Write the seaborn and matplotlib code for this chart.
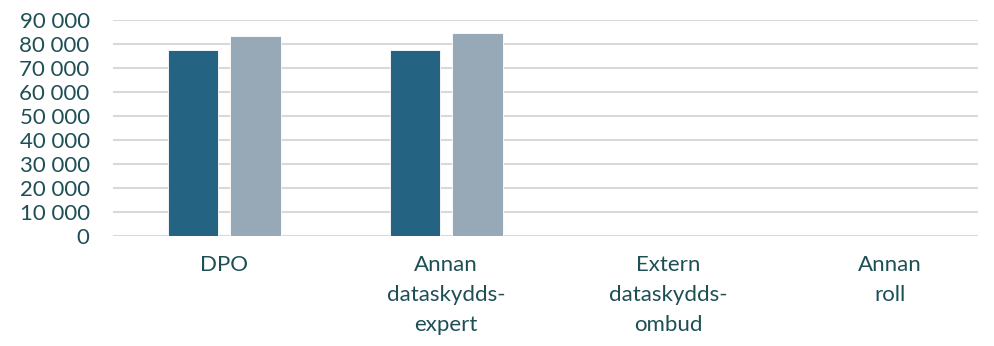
import pandas as pd
import seaborn as sns
import matplotlib.pyplot as plt
from matplotlib.ticker import FuncFormatter

# chart data
categories = ['DPO', 'Annan\ndataskydds-\nexpert', 'Extern\ndataskydds-\nombud', 'Annan\nroll']
series_names = ['Serie 1', 'Serie 2']
serie_1 = [77500, 77600, None, None]
serie_2 = [83300, 84700, None, None]

df = pd.DataFrame({
    'Roll': categories * 2,
    'Serie': [series_names[0]] * 4 + [series_names[1]] * 4,
    'Lön': serie_1 + serie_2,
})

sns.set_style('white')
plt.rcParams['font.family'] = ['Lato', 'DejaVu Sans']
text_color = '#1d4f55'

fig = plt.figure(figsize=(9.94, 3.46), dpi=100)
ax = fig.add_axes([0.114, 0.318, 0.870, 0.624])

sns.barplot(data=df, x='Roll', y='Lön', hue='Serie', order=categories,
            palette=['#246482', '#97a9b7'], width=0.56, gap=0.19, saturation=1,
            legend=False, ax=ax, edgecolor='white', linewidth=0.6)

ax.set_xlim(-0.5, 3.396)
ax.set_ylim(0, 90000)
ax.set_yticks(range(0, 90001, 10000))
ax.yaxis.set_major_formatter(FuncFormatter(lambda v, p: f'{int(v):,}'.replace(',', ' ')))
ax.grid(axis='y', color='#d9d9d9', linewidth=1.5)
ax.set_axisbelow(True)
sns.despine(left=True, bottom=True)
ax.set_xlabel('')
ax.set_ylabel('')
ax.tick_params(axis='y', labelsize=16, labelcolor=text_color, length=0, pad=17)
ax.tick_params(axis='x', labelsize=16, labelcolor=text_color, length=0, pad=14)
for lbl in ax.get_xticklabels():
    lbl.set_linespacing(1.6)

fig.savefig('out.png', dpi=100)
